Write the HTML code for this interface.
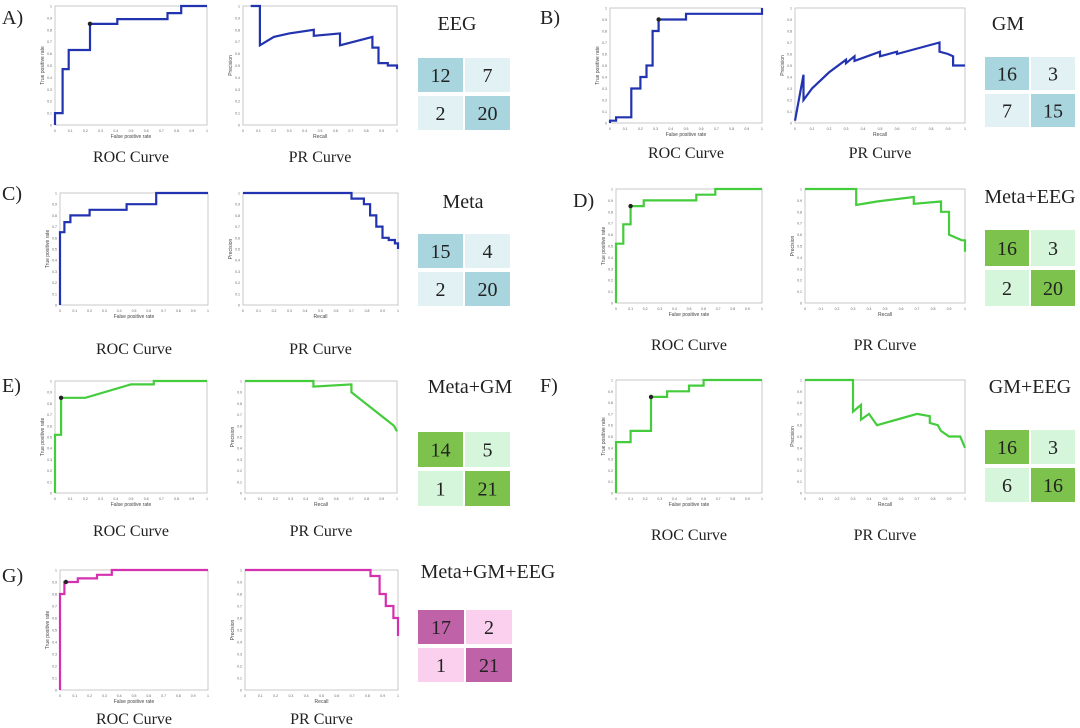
<!DOCTYPE html>
<html><head><meta charset="utf-8"><style>
body{margin:0;background:#fff;width:1080px;height:728px;overflow:hidden}
svg{display:block;font-family:"Liberation Serif",serif}
</style></head><body>
<svg id="fig" width="1080" height="728" viewBox="0 0 1080 728" xmlns="http://www.w3.org/2000/svg"></svg>
<script>
const ticks = [0,0.1,0.2,0.3,0.4,0.5,0.6,0.7,0.8,0.9,1];
const tickLabels = ["0","0.1","0.2","0.3","0.4","0.5","0.6","0.7","0.8","0.9","1"];
// ROC series (fpr array, tpr array) and PR series (recall, precision) per panel
const rocA_x=[0,0,.05,.05,.09,.09,.23,.23,.41,.41,.74,.74,.83,.83,1];
const rocA_y=[0,.1,.1,.47,.47,.63,.63,.85,.85,.89,.89,.94,.94,1,1];
const prA_x=[.05,.11,.11,.2,.3,.46,.46,.63,.63,.84,.84,.88,.88,.94,.94,1,1];
const prA_y=[1,1,.67,.74,.77,.8,.75,.77,.67,.74,.65,.65,.52,.52,.5,.5,.47];
const rocB_x=[0,0,.04,.04,.14,.14,.2,.2,.24,.24,.28,.28,.32,.32,.5,.5,1,1];
const rocB_y=[0,.02,.02,.05,.05,.3,.3,.4,.4,.5,.5,.8,.8,.9,.9,.95,.95,1];
const prB_x=[0,.05,.05,.1,.2,.3,.3,.35,.35,.5,.5,.6,.6,.85,.85,.9,.93,.93,1];
const prB_y=[.02,.42,.2,.3,.44,.55,.52,.58,.54,.62,.58,.62,.6,.7,.62,.6,.58,.5,.5];
const rocC_x=[0,0,.03,.03,.07,.07,.2,.2,.45,.45,.65,.65,1];
const rocC_y=[0,.65,.65,.74,.74,.8,.8,.85,.85,.9,.9,1,1];
const prC_x=[0,.7,.7,.78,.78,.82,.82,.86,.86,.9,.9,.94,.94,.98,.98,1,1];
const prC_y=[1,1,.95,.95,.9,.9,.8,.8,.7,.7,.6,.6,.58,.58,.55,.55,.5];
const rocD_x=[0,0,.05,.05,.1,.1,.19,.19,.55,.55,.68,.68,1];
const rocD_y=[0,.52,.52,.69,.69,.85,.85,.9,.9,.95,.95,1,1];
const prD_x=[0,.32,.32,.45,.68,.68,.85,.85,.9,.9,.98,1,1];
const prD_y=[1,1,.86,.89,.93,.87,.89,.8,.8,.6,.55,.55,.45];
const rocE_x=[0,0,.04,.04,.2,.5,.65,.65,1];
const rocE_y=[0,.52,.52,.85,.85,.97,.97,1,1];
const prE_x=[0,.45,.45,.7,.7,.98,1];
const prE_y=[1,1,.95,.97,.9,.6,.55];
const rocF_x=[0,0,.1,.1,.24,.24,.35,.35,.5,.5,.6,.6,1];
const rocF_y=[0,.45,.45,.55,.55,.85,.85,.9,.9,.95,.95,1,1];
const prF_x=[0,.3,.3,.35,.35,.4,.45,.7,.78,.78,.83,.85,.9,.97,1];
const prF_y=[1,1,.72,.78,.65,.7,.6,.7,.68,.62,.6,.55,.5,.5,.4];
const rocG_x=[0,0,.03,.03,.12,.12,.25,.25,.35,.35,1];
const rocG_y=[0,.8,.8,.9,.9,.93,.93,.96,.96,1,1];
const prG_x=[0,.82,.82,.88,.88,.92,.92,.97,.97,1,1];
const prG_y=[1,1,.95,.95,.8,.8,.7,.7,.6,.6,.45];
const dots={A:[.23,.85],B:[.32,.9],D:[.1,.85],E:[.04,.85],F:[.24,.85],G:[.04,.9]};
const matA=[12,7,2,20],matB=[16,3,7,15],matC=[15,4,2,20],matD=[16,3,2,20],matE=[14,5,1,21],matF=[16,3,6,16],matG=[17,2,1,21];

const NS="http://www.w3.org/2000/svg",svg=document.getElementById('fig');
function el(t,a,p){const e=document.createElementNS(NS,t);for(const k in a)e.setAttribute(k,a[k]);(p||svg).appendChild(e);return e;}
function txt(s,x,y,size,p,anchor,fam,fill){const t=el('text',{x:x,y:y,'font-size':size,'text-anchor':anchor||'middle',fill:fill||'#222','font-family':fam||'"Liberation Serif",serif'},p);t.textContent=s;return t;}

function axis(name,x0,y0,x1,y1,xs,ys,color,dot,xl,yl){
  const g=el('g',{});
  
  
  const sx=v=>x0+v*(x1-x0), sy=v=>y1-v*(y1-y0);
  el('rect',{x:x0,y:y0,width:x1-x0,height:y1-y0,fill:'#fff',stroke:'#bbb','stroke-width':0.8},g);
  ticks.forEach((t,i)=>{
    txt(tickLabels[i],sx(t),y1+7,3.5,g,'middle','"Liberation Sans",sans-serif','#666');
    txt(tickLabels[i],x0-3,sy(t)+1.5,3.5,g,'end','"Liberation Sans",sans-serif','#666');
  });
  txt(xl,(x0+x1)/2,y1+13,5,g,'middle','"Liberation Sans",sans-serif','#444');
  const yt=txt(yl,0,0,5,g,'middle','"Liberation Sans",sans-serif','#444');
  yt.setAttribute('transform',`translate(${x0-11},${(y0+y1)/2}) rotate(-90)`);
  const pts=xs.map((v,i)=>sx(v).toFixed(1)+','+sy(ys[i]).toFixed(1)).join(' ');
  const pl=el('polyline',{points:pts,fill:'none',stroke:color,'stroke-width':2.2,'stroke-linejoin':'miter'},g);
  
  
  if(dot){const c=el('circle',{cx:sx(dot[0]),cy:sy(dot[1]),r:2.2,fill:'#222'},g);
    
    }
}
function matrix(name,x,y,w,h,vals,dark,light){
  const g=el('g',{});
  
  
  const cw=w/2-1,ch=h/2-2;
  const mx=Math.max(...vals);
  vals.forEach((v,i)=>{
    const cx=x+(i%2)*(cw+2),cy=y+Math.floor(i/2)*(ch+4);
    const strong=v>=10;
    const r=el('rect',{x:cx,y:cy,width:cw,height:ch,fill:strong?dark:light},g);
    
    
    txt(String(v),cx+cw/2,cy+ch/2+7,20,g);
  });
}
function panel(L,lx,ly,roc,pr,rx,ry,px,labY,title,tx,ty,mat,mx,my,mw,mh,color,dark,light){
  const t=txt(L+')',lx,ly,20,svg,'start');
  
  
  axis('roc-'+L.toLowerCase(),rx[0],ry[0],rx[1],ry[1],roc[0],roc[1],color,dots[L],'False positive rate','True positive rate');
  axis('pr-'+L.toLowerCase(),px[0],ry[0],px[1],ry[1],pr[0],pr[1],color,null,'Recall','Precision');
  const a=txt('ROC Curve',(rx[0]+rx[1])/2,labY,16);
  const b=txt('PR Curve',(px[0]+px[1])/2,labY,16);
  const c=txt(title,tx,ty,20);
  matrix('confusion-matrix-'+L.toLowerCase(),mx,my,mw,mh,mat,dark,light);
}
const BL=['#2233b0','#a9d5df','#e2f1f4'],GR=['#44cc3c','#7cc24c','#d6f6dc'],PK=['#d530b0','#c062a8','#fbd0ee'];
panel('A',2,24,[rocA_x,rocA_y],[prA_x,prA_y],[55,207],[6,125],[243,397],162,'EEG',457,30,matA,418,58,92,72,BL[0],BL[1],BL[2]);
panel('B',540,24,[rocB_x,rocB_y],[prB_x,prB_y],[610,762],[8,123],[795,965],158,'GM',1008,30,matB,985,57,90,70,BL[0],BL[1],BL[2]);
panel('C',2,200,[rocC_x,rocC_y],[prC_x,prC_y],[60,208],[193,305],[243,398],354,'Meta',463,208,matC,418,234,92,72,BL[0],BL[1],BL[2]);
panel('D',573,207,[rocD_x,rocD_y],[prD_x,prD_y],[616,762],[189,303],[805,965],350,'Meta+EEG',1030,203,matD,985,230,90,76,GR[0],GR[1],GR[2]);
panel('E',2,392,[rocE_x,rocE_y],[prE_x,prE_y],[55,207],[381,493],[245,397],536,'Meta+GM',470,393,matE,418,432,92,74,GR[0],GR[1],GR[2]);
panel('F',540,392,[rocF_x,rocF_y],[prF_x,prF_y],[616,762],[380,493],[805,965],540,'GM+EEG',1030,393,matF,985,430,90,72,GR[0],GR[1],GR[2]);
panel('G',2,582,[rocG_x,rocG_y],[prG_x,prG_y],[60,208],[570,690],[245,398],724,'Meta+GM+EEG',488,578,matG,418,610,94,72,PK[0],PK[1],PK[2]);
</script>
</body></html>
